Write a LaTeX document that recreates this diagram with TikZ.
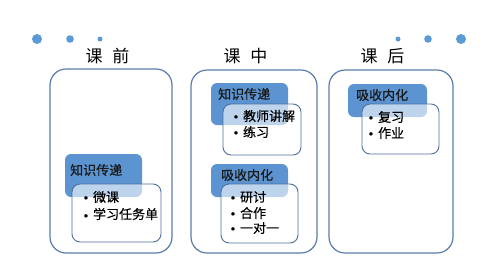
\documentclass[tikz,border=0pt]{standalone}
\usepackage{fontspec}
\newfontfamily\cjk[FakeBold=0.4]{Noto Sans CJK SC}
\newfontfamily\cjkt{Noto Sans CJK SC}
\definecolor{dotblue}{HTML}{5B9BD5}
\definecolor{fillblue}{HTML}{5B94D0}
\definecolor{frameblue}{HTML}{5A7DAD}
\definecolor{innerline}{HTML}{4F6F9C}
\newcommand{\bul}{{\rmfamily\textbullet}\hspace{2pt}}
\tikzset{
  bigbox/.style={draw=frameblue, line width=1.2pt, rounded corners=16pt},
  bluebox/.style={fill=fillblue, rounded corners=6pt},
  whitebox/.style={draw=innerline, line width=0.9pt, fill=white, fill opacity=0.6, draw opacity=1, rounded corners=8pt},
  titletext/.style={font=\cjkt\fontsize{17}{17}\selectfont, inner sep=0pt},
  headtext/.style={font=\cjk\fontsize{13}{13}\selectfont, inner sep=0pt, anchor=west, text=black!90},
  itemtext/.style={font=\cjk\fontsize{13}{13}\selectfont, inner sep=0pt, anchor=west},
  dot/.style={fill=dotblue, draw=none}
}
\begin{document}
\begin{tikzpicture}[x=1pt,y=-1pt]
\useasboundingbox[fill=white] (0,0) rectangle (499,274);
% dots
\fill[dot] (37,39) circle (5);
\fill[dot] (70,39) circle (3.8);
\fill[dot] (100,39) circle (2.5);
\fill[dot] (398,39) circle (2.5);
\fill[dot] (428,39) circle (3.8);
\fill[dot] (461,39) circle (5);
% titles
\node[titletext] (t1) at (107.5,56) {课\hspace{10pt}前};
\node[titletext] (t2) at (245.5,56) {课\hspace{10pt}中};
\node[titletext] (t3) at (382.5,56) {课\hspace{10pt}后};
% big boxes
\draw[bigbox] (50,69) rectangle (172,253);
\draw[bigbox] (191,70) rectangle (317,253);
\draw[bigbox] (329,70) rectangle (453,253);
% box 1
\fill[bluebox] (65,154) rectangle (142,197);
\draw[whitebox] (72,184) rectangle (161,242);
\node[headtext] (h1) at (70,170) {知识传递};
\node[itemtext] (a1) at (81,197) {\bul 微课};
\node[itemtext] (a2) at (81,214) {\bul 学习任务单};
% box 2 upper
\fill[bluebox] (211,83) rectangle (288,125);
\draw[whitebox] (223,104) rectangle (301,155);
\node[headtext] (h2) at (218,94) {知识传递};
\node[itemtext] (b1) at (231,116) {\bul 教师讲解};
\node[itemtext] (b2) at (231,132) {\bul 练习};
% box 2 lower
\fill[bluebox] (211,164) rectangle (288,197);
\draw[whitebox] (221,184) rectangle (298,243);
\node[headtext] (h3) at (221,175) {吸收内化};
\node[itemtext] (c1) at (228,197) {\bul 研讨};
\node[itemtext] (c2) at (228,213) {\bul 合作};
\node[itemtext] (c3) at (228,228) {\bul 一对一};
% box 3
\fill[bluebox] (348,84) rectangle (427,117);
\draw[whitebox] (362,104) rectangle (439,154);
\node[headtext] (h4) at (356,95) {吸收内化};
\node[itemtext] (d1) at (366,117) {\bul 复习};
\node[itemtext] (d2) at (366,133) {\bul 作业};
\end{tikzpicture}
\end{document}
